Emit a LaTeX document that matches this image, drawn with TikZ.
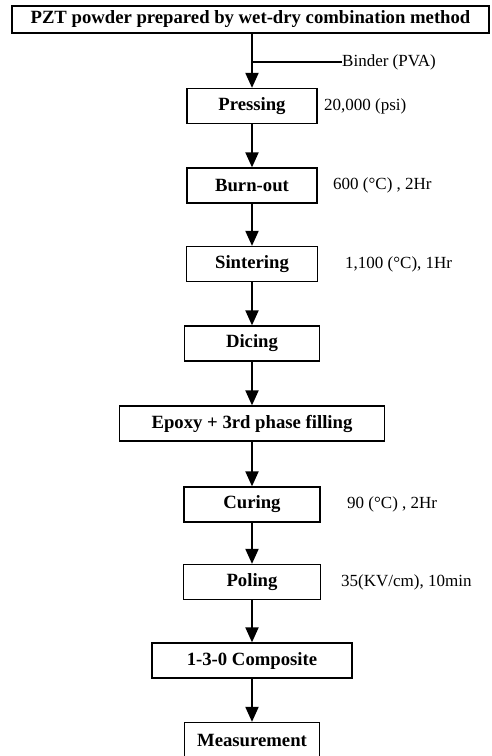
\documentclass[tikz,border=0pt]{standalone}
\usepackage{fontspec}
\setmainfont{Liberation Serif}
\usetikzlibrary{arrows.meta}
\begin{document}
\begin{tikzpicture}[x=1pt,y=-1pt,
  box/.style={draw, line width=1.3pt, inner sep=0pt, minimum height=35pt,
    font=\fontsize{18.7}{22}\selectfont\bfseries},
  lbl/.style={anchor=west, inner sep=0pt, font=\fontsize{17}{20}\selectfont},
  flow/.style={line width=2pt, -{Triangle[width=13pt,length=15pt]}}]
\useasboundingbox (0,0) rectangle (492,756);
\node[box, minimum width=477pt, minimum height=27pt] (top) at (250.5,19.5) {PZT powder prepared by wet-dry combination method};
\node[box, minimum width=130pt] (press) at (252,106) {Pressing};
\node[box, minimum width=130pt] (burn) at (252,185.5) {Burn-out};
\node[box, minimum width=131pt] (sint) at (252,264) {Sintering};
\node[box, minimum width=135pt] (dice) at (252,343.5) {Dicing};
\node[box, minimum width=265pt] (epoxy) at (252,423.5) {Epoxy + 3rd phase filling};
\node[box, minimum width=136pt] (cure) at (252,504.5) {Curing};
\node[box, minimum width=137pt] (pole) at (252,582) {Poling};
\node[box, minimum width=200pt] (comp) at (252,660.5) {1-3-0 Composite};
\node[box, minimum width=135pt] (meas) at (252,740) {Measurement};

\coordinate (bj) at (252,62);
\node[lbl] (binder) at (342,62) {Binder (PVA)};
\draw[line width=1.3pt] (bj) -- (binder.west);

\node[lbl] (l1) at (324,106) {20,000 (psi)};
\node[lbl] (l2) at (333,185.5) {600 (°C) , 2Hr};
\node[lbl] (l3) at (345,264) {1,100 (°C), 1Hr};
\node[lbl] (l4) at (347,504.5) {90 (°C) , 2Hr};
\node[lbl] (l5) at (341,582) {35(KV/cm), 10min};

\draw[flow] (top.south -| press.north) -- (press.north);
\draw[flow] (press) -- (burn);
\draw[flow] (burn) -- (sint);
\draw[flow] (sint) -- (dice);
\draw[flow] (dice) -- (epoxy);
\draw[flow] (epoxy) -- (cure);
\draw[flow] (cure) -- (pole);
\draw[flow] (pole) -- (comp);
\draw[flow] (comp) -- (meas);
\end{tikzpicture}
\end{document}
